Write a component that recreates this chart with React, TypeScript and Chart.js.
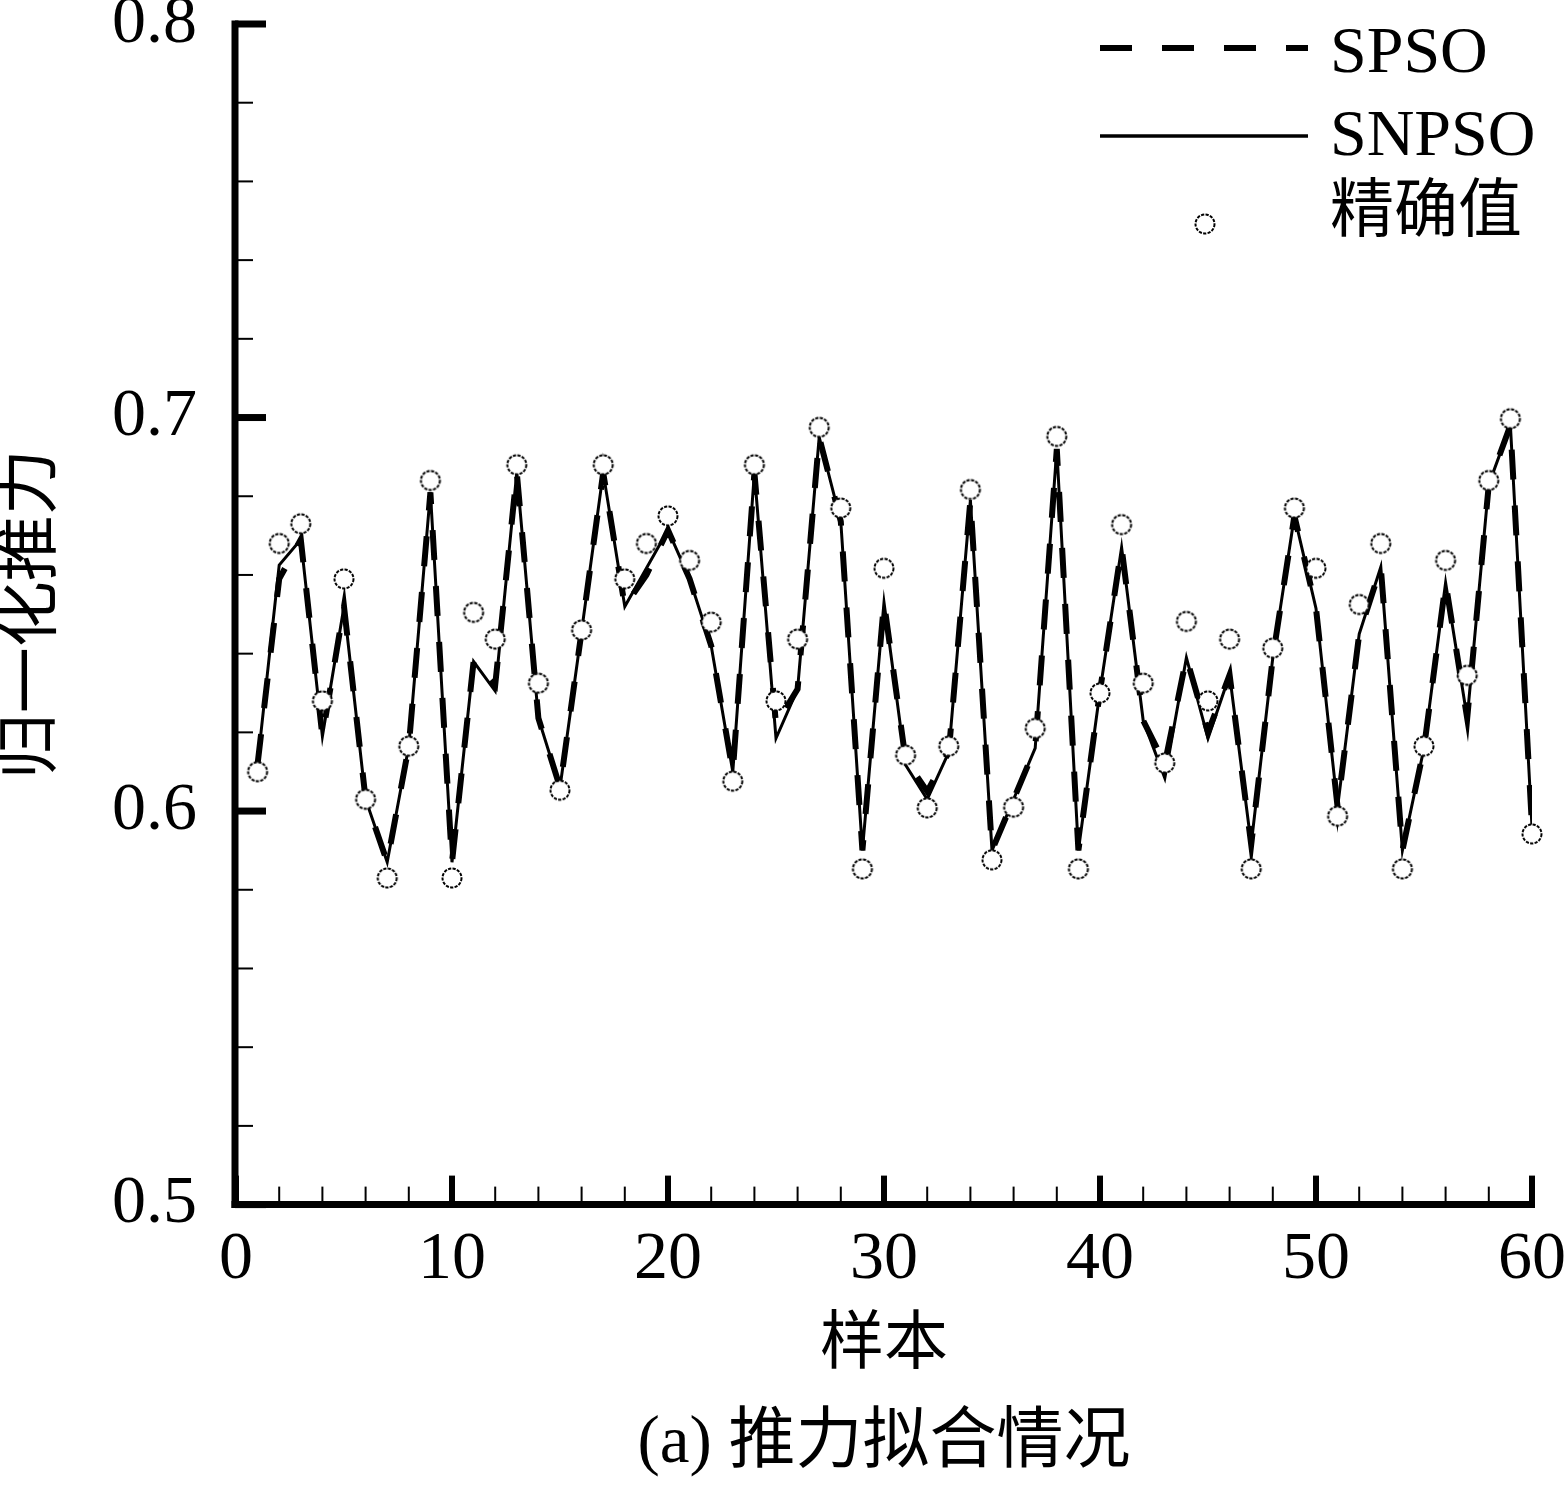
import React, { useEffect, useRef } from 'react';
import { Chart, registerables } from 'chart.js';
Chart.register(...registerables);

// sample index 1..60
const samples = [
  1, 2, 3, 4, 5, 6, 7, 8, 9, 10, 11, 12, 13, 14, 15, 16, 17, 18, 19, 20,
  21, 22, 23, 24, 25, 26, 27, 28, 29, 30, 31, 32, 33, 34, 35, 36, 37, 38, 39, 40,
  41, 42, 43, 44, 45, 46, 47, 48, 49, 50, 51, 52, 53, 54, 55, 56, 57, 58, 59, 60,
];

// 精确值 (circles)
const exactValues = [
  0.610, 0.668, 0.673, 0.628, 0.659, 0.603, 0.583, 0.6165, 0.684, 0.583,
  0.6505, 0.6437, 0.688, 0.6325, 0.6053, 0.646, 0.688, 0.659, 0.668, 0.675,
  0.6637, 0.648, 0.6076, 0.688, 0.628, 0.6437, 0.6975, 0.677, 0.5853, 0.6617,
  0.6142, 0.6008, 0.6165, 0.6817, 0.5876, 0.601, 0.621, 0.6952, 0.5853, 0.630,
  0.6728, 0.6325, 0.6122, 0.6482, 0.628, 0.6437, 0.5853, 0.6414, 0.677, 0.6617,
  0.5987, 0.6525, 0.668, 0.5853, 0.6165, 0.6637, 0.6345, 0.684, 0.6997, 0.5942,
];

// SNPSO (solid)
const snpsoValues = [
  0.612, 0.6625, 0.669, 0.619, 0.652, 0.603, 0.587, 0.6165, 0.681, 0.587,
  0.638, 0.6305, 0.686, 0.6236, 0.606, 0.6457, 0.686, 0.652, 0.6617, 0.6714,
  0.659, 0.642, 0.610, 0.686, 0.6185, 0.631, 0.695, 0.6736, 0.590, 0.653,
  0.6117, 0.603, 0.615, 0.679, 0.590, 0.603, 0.616, 0.692, 0.590, 0.6305,
  0.667, 0.623, 0.6084, 0.639, 0.6185, 0.6346, 0.5915, 0.639, 0.675, 0.6515,
  0.601, 0.645, 0.662, 0.590, 0.616, 0.658, 0.6236, 0.683, 0.698, 0.596,
];

// SPSO (dashed)
const spsoValues = [
  0.612, 0.659, 0.669, 0.619, 0.652, 0.603, 0.587, 0.6165, 0.681, 0.587,
  0.638, 0.632, 0.686, 0.6236, 0.606, 0.6457, 0.686, 0.652, 0.660, 0.6714,
  0.659, 0.642, 0.610, 0.686, 0.622, 0.631, 0.695, 0.6736, 0.590, 0.653,
  0.613, 0.605, 0.615, 0.679, 0.590, 0.603, 0.616, 0.692, 0.590, 0.6305,
  0.667, 0.623, 0.612, 0.639, 0.620, 0.6346, 0.5915, 0.639, 0.675, 0.6515,
  0.601, 0.645, 0.662, 0.590, 0.616, 0.658, 0.6236, 0.683, 0.698, 0.596,
];

const legendLabels = ['SPSO', 'SNPSO', '精确值'];

const serif = "'Liberation Serif', 'Times New Roman', serif";
const cjk = "'Liberation Serif', 'Noto Sans CJK SC', serif";

function makeCircle(): HTMLCanvasElement {
  const c = document.createElement('canvas');
  c.width = 26;
  c.height = 26;
  const g = c.getContext('2d')!;
  g.beginPath();
  g.arc(13, 13, 9.5, 0, Math.PI * 2);
  g.fillStyle = '#fff';
  g.fill();
  g.setLineDash([3.2, 1.3]);
  g.lineWidth = 2;
  g.strokeStyle = '#000';
  g.stroke();
  return c;
}

export default function App(): React.ReactElement {
  const canvasRef = useRef<HTMLCanvasElement | null>(null);
  const chartRef = useRef<Chart | null>(null);

  useEffect(() => {
    if (!canvasRef.current) return;
    const ctx = canvasRef.current.getContext('2d');
    if (!ctx) return;
    if (chartRef.current) chartRef.current.destroy();

    const circle = makeCircle();

    const axisPlugin = {
      id: 'axisFrame',
      afterDatasetsDraw(chart: any) {
        const { ctx: c, chartArea } = chart;
        const xs = chart.scales.x;
        const ys = chart.scales.y;
        const left = chartArea.left - 1;
        const bottom = chartArea.bottom;
        c.save();
        c.strokeStyle = '#000';
        c.lineCap = 'butt';

        // y ticks: minor every 0.02, major every 0.1
        for (let i = 0; i <= 15; i++) {
          const v = 0.5 + i * 0.02;
          const py = ys.getPixelForValue(v);
          const major = i % 5 === 0;
          c.lineWidth = major ? 7 : 2;
          c.beginPath();
          c.moveTo(left, py);
          c.lineTo(left + (major ? 31 : 18), py);
          c.stroke();
        }
        // x ticks: minor every 2, major every 10
        for (let i = 0; i <= 30; i++) {
          const v = i * 2;
          const px = xs.getPixelForValue(v);
          const major = v % 10 === 0;
          c.lineWidth = major ? 6 : 2;
          c.beginPath();
          c.moveTo(px, bottom);
          c.lineTo(px, bottom - (major ? 29 : 18));
          c.stroke();
        }
        // axis lines
        c.lineWidth = 7;
        c.beginPath();
        c.moveTo(left, ys.getPixelForValue(0.8) - 3.5);
        c.lineTo(left, bottom + 3.5);
        c.stroke();
        c.beginPath();
        c.moveTo(left - 3.5, bottom);
        c.lineTo(xs.getPixelForValue(60) + 3, bottom);
        c.stroke();
        c.restore();
      },
    };

    const legendPlugin = {
      id: 'cornerLegend',
      afterDraw(chart: any) {
        const c = chart.ctx;
        c.save();
        c.strokeStyle = '#000';
        // dashed sample
        c.lineWidth = 6;
        c.setLineDash([32, 30]);
        c.beginPath();
        c.moveTo(1100, 48);
        c.lineTo(1308, 48);
        c.stroke();
        // solid sample
        c.setLineDash([]);
        c.lineWidth = 3.5;
        c.beginPath();
        c.moveTo(1100, 136);
        c.lineTo(1308, 136);
        c.stroke();
        // circle sample
        c.drawImage(circle, 1205 - 13, 224 - 13);
        c.fillStyle = '#000';
        c.textAlign = 'left';
        c.textBaseline = 'alphabetic';
        c.font = `66px ${serif}`;
        c.fillText(legendLabels[0], 1330, 72);
        c.fillText(legendLabels[1], 1330, 155);
        c.textBaseline = 'middle';
        c.font = `64px ${cjk}`;
        c.fillText(legendLabels[2], 1330, 214);
        c.restore();
      },
    };

    chartRef.current = new Chart(ctx, {
      type: 'line',
      data: {
        datasets: [
          {
            label: legendLabels[2],
            data: samples.map((s, i) => ({ x: s, y: exactValues[i] })),
            showLine: false,
            pointStyle: circle,
            pointRadius: 10,
            clip: false,
            order: 0,
          },
          {
            label: legendLabels[1],
            data: samples.map((s, i) => ({ x: s, y: snpsoValues[i] })),
            borderColor: '#000',
            borderWidth: 3,
            pointRadius: 0,
            tension: 0,
            fill: false,
            order: 1,
          },
          {
            label: legendLabels[0],
            data: samples.map((s, i) => ({ x: s, y: spsoValues[i] })),
            borderColor: '#000',
            borderWidth: 6,
            borderDash: [30, 26],
            pointRadius: 0,
            tension: 0,
            fill: false,
            order: 2,
          },
        ],
      },
      options: {
        responsive: true,
        maintainAspectRatio: false,
        devicePixelRatio: 1,
        animation: false,
        layout: { padding: { top: 24, right: 35, left: 0, bottom: 0 } },
        plugins: {
          legend: { display: false },
          tooltip: { enabled: false },
          title: {
            display: true,
            position: 'bottom',
            fullSize: false,
            text: '(a) 推力拟合情况',
            color: '#000',
            font: { family: cjk, size: 67, weight: 'normal', lineHeight: 1.2 },
            padding: { top: 0, bottom: 1 },
          },
        },
        scales: {
          x: {
            type: 'linear',
            min: 0,
            max: 60,
            grid: { display: false, drawTicks: false },
            border: { display: false },
            ticks: {
              stepSize: 10,
              color: '#000',
              padding: 22,
              font: { family: serif, size: 68, lineHeight: 1 },
              maxRotation: 0,
            },
            title: {
              display: true,
              text: '样本',
              color: '#000',
              font: { family: cjk, size: 64, lineHeight: 1 },
              padding: { top: 0, bottom: 26 },
            },
            afterFit(scale: any) {
              scale.height = 200;
              scale.paddingLeft = 0;
              scale.paddingRight = 0;
            },
          },
          y: {
            type: 'linear',
            min: 0.5,
            max: 0.8,
            grid: { display: false, drawTicks: false },
            border: { display: false },
            ticks: {
              stepSize: 0.1,
              color: '#000',
              padding: 39,
              font: { family: serif, size: 68, lineHeight: 1 },
              callback: (v: any) => Number(v).toFixed(1),
            },
            title: {
              display: true,
              text: '归一化推力',
              color: '#000',
              font: { family: cjk, size: 66, lineHeight: 1 },
              padding: { top: 0, bottom: 0 },
            },
            afterFit(scale: any) {
              scale.width = 236;
              scale.paddingTop = 0;
              scale.paddingBottom = 0;
            },
          },
        },
      },
      plugins: [axisPlugin, legendPlugin],
    } as any);

    return () => {
      if (chartRef.current) {
        chartRef.current.destroy();
        chartRef.current = null;
      }
    };
  }, []);

  return (
    <div style={{ position: 'absolute', left: 0, top: 0, width: 1567, height: 1486, background: '#fff' }}>
      <canvas ref={canvasRef} />
    </div>
  );
}
